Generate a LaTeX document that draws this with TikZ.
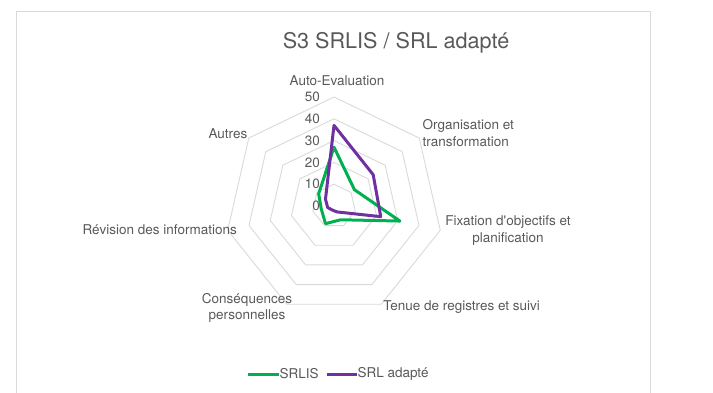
\documentclass[tikz,border=0pt]{standalone}
\usepackage{fontspec}
\setmainfont{TeX Gyre Heros}
\usetikzlibrary{positioning}
\definecolor{srlisgreen}{HTML}{00B050}
\definecolor{srlpurple}{HTML}{7030A0}
\definecolor{gridgray}{HTML}{D9D9D9}
\definecolor{txtgray}{HTML}{595959}
\tikzset{
  lbl/.style={text=txtgray, font=\fontsize{13.5}{16.8}\selectfont, inner sep=0pt},
  ring/.style={draw=gridgray, line width=0.9pt},
  srlis/.style={draw=srlisgreen, line width=3pt, line join=round},
  srla/.style={draw=srlpurple, line width=3pt, line join=round},
}

\begin{document}
\begin{tikzpicture}[x=1pt,y=-1pt]
              \def\ulen{2.18}
              \useasboundingbox (0,0) rectangle (713,392);
              \draw[gridgray, line width=1pt] (16.5,400) |- (650,11) -- (650,400);
              \node[lbl, font=\fontsize{21.6}{26}\selectfont, anchor=base] (title) at (396,48.3) {S3 SRLIS / SRL adapté};

              \begin{scope}[shift={(334,206)}]
              \coordinate (centre) at (0,0);
              % rings 10 to 50
              \foreach \r in {1,...,5}
                \draw[ring] (-90:\r*10*\ulen) \foreach \k in {1,...,6}{ -- (-90+\k*360/7:\r*10*\ulen)} -- cycle;
              \foreach \v in {0,10,...,50}
                \node[lbl, anchor=east] (val\v) at (-14,-\v*\ulen) {\v};

              \foreach \v [count=\k from 0] in {27,12,31,7,9,6,9}
                \coordinate (g\k) at (-90+\k*360/7:\v*\ulen);
              \foreach \v [count=\k from 0] in {37,23,22,3,2,3,5}
                \coordinate (p\k) at (-90+\k*360/7:\v*\ulen);

              \draw[srlis] (g0)--(g1)--(g2)--(g3)--(g4)--(g5)--(g6)--cycle;
              \draw[srla] (p0)--(p1)--(p2)--(p3)--(p4)--(p5)--(p6)--cycle;
              \end{scope}

              \node[lbl] (auto) at (337,81) {Auto-Evaluation};
              \node[lbl, align=left, anchor=west] (orga) at (422.5,133) {Organisation et\\transformation};
              \node[lbl, align=center] (fixa) at (508,230.3) {Fixation d\textquotesingle objectifs et\\planification};
              \node[lbl] (tenue) at (461.7,307.3) {Tenue de registres et suivi};
              \node[lbl, align=center] (conseq) at (247,308) {Conséquences\\personnelles};
              \node[lbl, anchor=east] (revis) at (237,230) {Révision des informations};
              \node[lbl, anchor=east] (autres) at (247.5,134) {Autres};

              \coordinate (legA0) at (248.3,374);
              \node[lbl, right=31pt of legA0] (legA) {SRLIS};
              \draw[srlis] (legA0) -- (legA.west);
              \coordinate (legB0) at (327.3,374);
              \node[lbl, right=30pt of legB0] (legB) {SRL adapté};
              \draw[srla] (legB0) -- (legB.west);
            \end{tikzpicture}
\end{document}
